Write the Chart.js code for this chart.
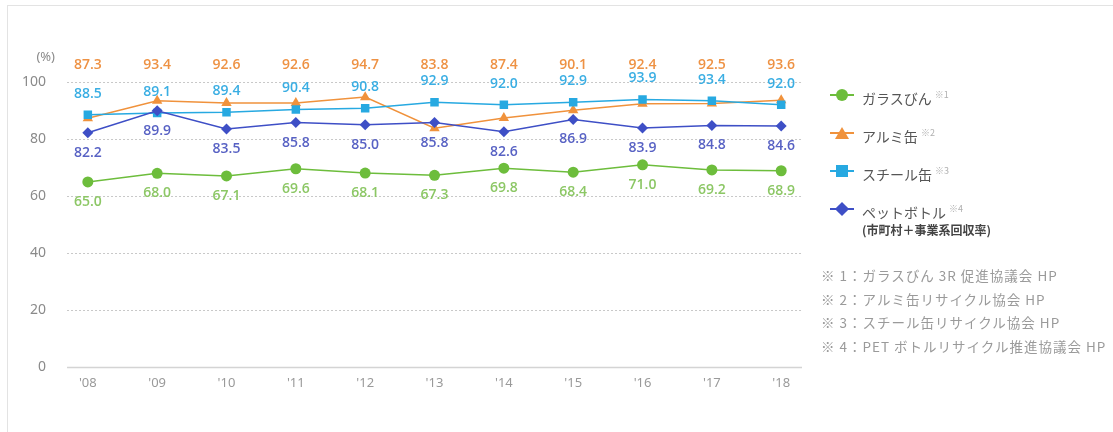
<!DOCTYPE html>
<html>
<head>
<meta charset="utf-8">
<script src="https://cdn.jsdelivr.net/npm/chart.js@4.4.1/dist/chart.umd.min.js"></script>
<style>
  html, body { margin: 0; padding: 0; background: #fff; }
  #wrap { position: relative; width: 1113px; height: 432px; overflow: hidden; }
  #frame { position: absolute; left: 7px; top: 5px; right: -2px; bottom: -2px; border-top: 1px solid #e3e3e3; border-left: 1px solid #e3e3e3; }
  canvas { position: absolute; left: 0; top: 0; }
  .lg { position: absolute; left: 828px; font-family: "Noto Sans CJK JP", sans-serif; font-size: 14px; color: #555; line-height: 18px; }
  .lg .mk { position: absolute; left: 0; top: 0; width: 28px; height: 18px; }
  .lg .ln { position: absolute; left: 2px; width: 24px; top: 8px; height: 2px; }
  .lg .tx { position: absolute; left: 34px; top: 0; white-space: nowrap; }
  .lg sup { font-size: 9px; color: #b0b0b0; margin-left: 3px; vertical-align: 6px; }
  .sub { position: absolute; left: 862px; font-family: "Noto Sans CJK JP", sans-serif; font-size: 12px; color: #444; font-weight: 700; white-space: nowrap; }
  .note { position: absolute; left: 821px; font-family: "Noto Sans CJK JP", sans-serif; font-size: 13.5px; color: #9a9a9a; white-space: nowrap; letter-spacing: 1px; }
</style>
</head>
<body>
<div id="wrap">
  <div id="frame"></div>
  <canvas id="c" width="1113" height="432"></canvas>
  <div id="legend"></div>
</div>
<script>
// ---- data ----
const years = ["'08", "'09", "'10", "'11", "'12", "'13", "'14", "'15", "'16", "'17", "'18"];
const glass = [65.0, 68.0, 67.1, 69.6, 68.1, 67.3, 69.8, 68.4, 71.0, 69.2, 68.9];
const aluminum = [87.3, 93.4, 92.6, 92.6, 94.7, 83.8, 87.4, 90.1, 92.4, 92.5, 93.6];
const steel = [88.5, 89.1, 89.4, 90.4, 90.8, 92.9, 92.0, 92.9, 93.9, 93.4, 92.0];
const pet = [82.2, 89.9, 83.5, 85.8, 85.0, 85.8, 82.6, 86.9, 83.9, 84.8, 84.6];
const yTicks = [0, 20, 40, 60, 80, 100];
const seriesNames = ["ガラスびん", "アルミ缶", "スチール缶", "ペットボトル"];
const seriesNotes = ["※1", "※2", "※3", "※4"];
const petSubLabel = "(市町村＋事業系回収率)";
const footnotes = [
  "※ 1：ガラスびん 3R 促進協議会 HP",
  "※ 2：アルミ缶リサイクル協会 HP",
  "※ 3：スチール缶リサイクル協会 HP",
  "※ 4：PET ボトルリサイクル推進協議会 HP"
];

const C = {
  glass: '#6dbd3c', glassLbl: '#8cc765',
  alu: '#f0923c', aluLbl: '#ee9244',
  steel: '#27a9e1', steelLbl: '#3aaee3',
  pet: '#3e4fc6', petLbl: '#5862c4'
};

function pts(arr) { return arr.map((v, i) => ({ x: i, y: v })); }

const datasets = [
  { label: seriesNames[0], data: pts(glass), borderColor: C.glass, backgroundColor: C.glass, pointStyle: 'circle', pointRadius: 5.5, order: 3, lbl: C.glassLbl, lblMode: 'below' },
  { label: seriesNames[1], data: pts(aluminum), borderColor: C.alu, backgroundColor: C.alu, pointStyle: 'triangle', pointRadius: 6, order: 2, lbl: C.aluLbl, lblMode: 'row' },
  { label: seriesNames[2], data: pts(steel), borderColor: C.steel, backgroundColor: C.steel, pointStyle: 'rect', pointRadius: 6, order: 1, lbl: C.steelLbl, lblMode: 'above' },
  { label: seriesNames[3], data: pts(pet), borderColor: C.pet, backgroundColor: C.pet, pointStyle: 'rectRot', pointRadius: 5.5, order: 0, lbl: C.petLbl, lblMode: 'below' }
];
datasets.forEach(d => { d.borderWidth = 1.5; d.pointBorderWidth = 0; d.tension = 0; d.fill = false; });

const gridPlugin = {
  id: 'grid',
  beforeDatasetsDraw(chart) {
    const { ctx, chartArea, scales } = chart;
    const y = scales.y;
    ctx.save();
    y.ticks.forEach(t => {
      const py = Math.round(y.getPixelForValue(t.value)) + 0.5;
      ctx.beginPath();
      if (t.value === 0) { ctx.setLineDash([]); ctx.strokeStyle = '#d4d4d4'; ctx.lineWidth = 1.5; }
      else { ctx.setLineDash([2, 2]); ctx.strokeStyle = '#c8c8c8'; ctx.lineWidth = 1; }
      ctx.moveTo(chartArea.left, py);
      ctx.lineTo(chartArea.right, py);
      ctx.stroke();
    });
    ctx.setLineDash([]);
    ctx.fillStyle = '#8a8a8a';
    ctx.font = '13px "Noto Sans", sans-serif';
    ctx.textAlign = 'right';
    ctx.textBaseline = 'middle';
    ctx.fillText('(%)', chartArea.left - 12, y.getPixelForValue(100) - 25);
    ctx.restore();
  }
};

const labelPlugin = {
  id: 'vlabels',
  afterDatasetsDraw(chart) {
    const { ctx, scales } = chart;
    ctx.save();
    ctx.font = '600 14px "Open Sans", sans-serif';
    ctx.textAlign = 'center';
    ctx.textBaseline = 'middle';
    chart.data.datasets.forEach((ds, di) => {
      const meta = chart.getDatasetMeta(di);
      ctx.fillStyle = ds.lbl;
      meta.data.forEach((el, i) => {
        let ty;
        if (ds.lblMode === 'row') ty = scales.y.getPixelForValue(106);
        else if (ds.lblMode === 'above') ty = el.y - 21;
        else ty = el.y + 20;
        ctx.fillText(ds.data[i].y.toFixed(1), el.x, ty);
      });
    });
    ctx.restore();
  }
};

new Chart(document.getElementById('c'), {
  type: 'line',
  data: { datasets },
  options: {
    responsive: false,
    animation: false,
    events: [],
    layout: { padding: { left: 9, right: 311, top: 82, bottom: 41 } },
    plugins: { legend: { display: false }, tooltip: { enabled: false } },
    scales: {
      x: {
        type: 'linear', min: -0.3, max: 10.3,
        afterBuildTicks: (axis) => { axis.ticks = years.map((_, i) => ({ value: i })); },
        grid: { display: false },
        border: { display: false },
        ticks: { callback: (v) => years[v], color: '#9a9a9a', font: { size: 13, family: '"Noto Sans", sans-serif' }, padding: 0, autoSkip: false, maxRotation: 0 }
      },
      y: {
        min: 0, max: 100,
        afterBuildTicks: (axis) => { axis.ticks = yTicks.map(v => ({ value: v })); },
        grid: { display: false },
        border: { display: false },
        ticks: { color: '#8a8a8a', font: { size: 14, family: '"Noto Sans", sans-serif' }, padding: 13 }
      }
    }
  },
  plugins: [gridPlugin, labelPlugin]
});

// ---- HTML legend ----
const legendEl = document.getElementById('legend');
const tops = [86, 124, 162, 200];
const shapes = [
  '<div style="position:absolute;left:8px;top:3px;width:12px;height:12px;border-radius:50%;background:' + C.glass + '"></div>',
  '<div style="position:absolute;left:7px;top:3px;width:0;height:0;border-left:7px solid transparent;border-right:7px solid transparent;border-bottom:12px solid ' + C.alu + '"></div>',
  '<div style="position:absolute;left:8px;top:3px;width:12px;height:12px;background:' + C.steel + '"></div>',
  '<div style="position:absolute;left:9px;top:4px;width:10px;height:10px;background:' + C.pet + ';transform:rotate(45deg)"></div>'
];
const lineCols = [C.glass, C.alu, C.steel, C.pet];
seriesNames.forEach((n, i) => {
  const d = document.createElement('div');
  d.className = 'lg';
  d.style.top = tops[i] + 'px';
  d.innerHTML = '<div class="mk"><div class="ln" style="background:' + lineCols[i] + '"></div>' + shapes[i] + '</div>' +
    '<div class="tx">' + n + '<sup>' + seriesNotes[i] + '</sup></div>';
  legendEl.appendChild(d);
});
const sub = document.createElement('div');
sub.className = 'sub';
sub.style.top = '221px';
sub.textContent = petSubLabel;
legendEl.appendChild(sub);
const noteTops = [265, 289, 312, 336];
footnotes.forEach((t, i) => {
  const d = document.createElement('div');
  d.className = 'note';
  d.style.top = noteTops[i] + 'px';
  d.textContent = t;
  legendEl.appendChild(d);
});
</script>
</body>
</html>
